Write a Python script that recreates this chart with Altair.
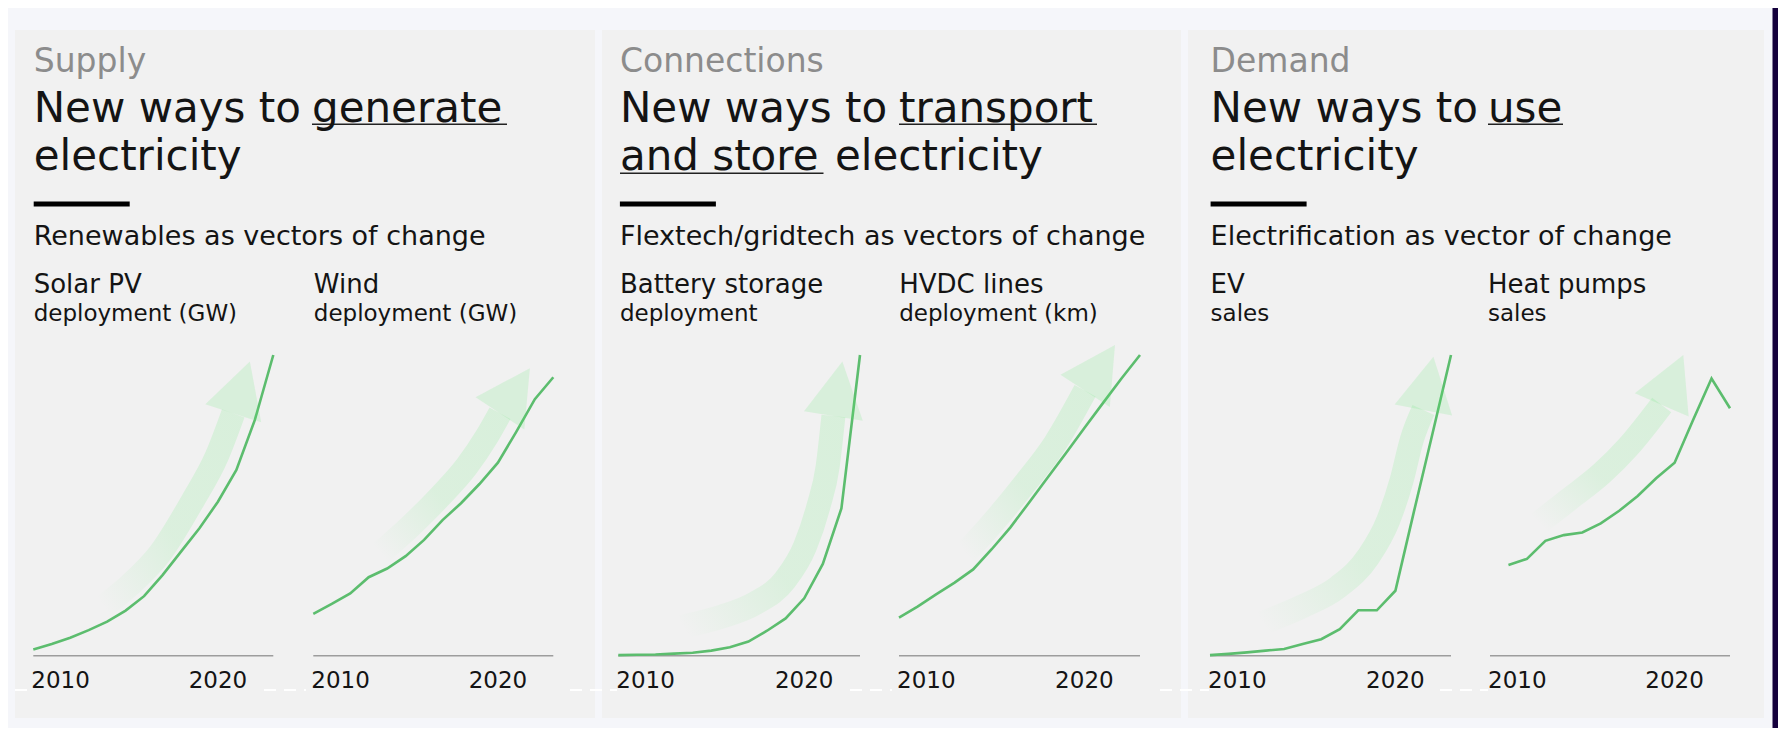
import math
import pandas as pd
import altair as alt

FONT = "DejaVu Sans"
GREEN = "#5cbd6e"
INK = "#141414"
GREY_TXT = "#8c8c8c"

# ---------------- data (index, 100 = top of each mini chart) ----------------
years = list(range(2010, 2024))
solar_pv = [2.1, 3.9, 6.0, 8.5, 11.3, 15.0, 19.8, 26.8, 34.6, 42.4, 51.2, 61.8, 78.4, 100]
wind = [13.9, 17.2, 20.7, 26.1, 29.0, 33.1, 38.5, 45.1, 50.7, 57.1, 64.2, 74.5, 85.3, 92.6]
battery = [0.2, 0.3, 0.4, 0.7, 1.0, 1.7, 2.8, 4.7, 8.3, 12.4, 19.1, 30.5, 49.0, 100]
hvdc = [12.7, 16.3, 20.4, 24.3, 28.7, 35.4, 42.6, 50.8, 59.1, 67.3, 75.7, 84.0, 92.2, 100]
ev = [0.2, 0.6, 1.1, 1.7, 2.2, 3.9, 5.5, 8.8, 15.1, 15.1, 21.6, 47.9, 73.8, 100]
heat_pump_years = list(range(2011, 2024))
heat_pumps = [30.2, 32.2, 38.2, 40.1, 41.0, 44.0, 48.2, 53.1, 59.0, 64.2, 78.4, 92.2, 82.3]

tick_years = [2010, 2020]
tick_labels = ["2010", "2020"]

# trend arrows (year, index) : body points, then tip
arrow_solar_x = [2013.79, 2015.23, 2016.86, 2018.66, 2019.93, 2020.83]
arrow_solar_y = [16.3, 23.5, 34.0, 51.8, 66.2, 80.6]
arrow_solar_tip = (2021.73, 97.8)
arrow_wind_x = [2013.61, 2015.23, 2016.86, 2018.30, 2019.39, 2020.11]
arrow_wind_y = [34.0, 42.9, 52.9, 62.9, 72.8, 80.6]
arrow_wind_tip = (2021.73, 95.6)
arrow_batt_x = [2013.41, 2015.56, 2017.35, 2018.97, 2020.04, 2020.76, 2021.26, 2021.57]
arrow_batt_y = [9.6, 13.0, 17.4, 25.2, 36.3, 49.6, 62.9, 79.7]
arrow_batt_tip = (2022.05, 97.8)
arrow_hvdc_x = [2013.56, 2015.18, 2016.80, 2018.42, 2020.04]
arrow_hvdc_y = [34.0, 45.1, 57.3, 70.6, 88.1]
arrow_hvdc_tip = (2021.65, 103.3)
arrow_ev_x = [2012.79, 2014.95, 2016.92, 2018.54, 2019.62, 2020.34, 2020.88, 2021.51]
arrow_ev_y = [10.8, 16.3, 22.9, 32.9, 45.1, 58.4, 71.7, 81.7]
arrow_ev_tip = (2022.05, 99.4)
arrow_hp_x = [2012.62, 2014.24, 2016.05, 2017.49, 2019.30]
arrow_hp_y = [44.0, 51.8, 60.6, 69.5, 83.4]
arrow_hp_tip = (2020.47, 100)

# ---------------- text ----------------
section_labels = ["Supply", "Connections", "Demand"]
title_lead = ["New ways to", "New ways to", "New ways to"]
title_key = ["generate", "transport", "use"]
subtitles = ["Renewables as vectors of change",
             "Flextech/gridtech as vectors of change",
             "Electrification as vector of change"]
chart_titles = ["Solar PV", "Wind", "Battery storage", "HVDC lines", "EV", "Heat pumps"]
chart_units = ["deployment (GW)", "deployment (GW)", "deployment", "deployment (km)", "sales", "sales"]

# ---------------- layout (pixels of the 1770x720 canvas) ----------------
W, H = 1770, 720
panel_x0 = [7, 594, 1180]
panel_x1 = [587, 1173, 1756]
col_x = [25.7, 305.8, 611.9, 891.2, 1202.6, 1480]
panel_text_x = [25.7, 611.9, 1202.6]
key_x = [304, 891, 1480]
key_w = [195, 198, 75]
chart_ranges = [(25.3, 265.3), (305.3, 545.3), (610.3, 852), (891, 1132), (1202, 1443), (1482, 1722)]
Y_BASE, Y_TOP = 647.7, 347.0

rows = []
for i in range(3):
    rows.append(dict(x=panel_text_x[i], y=63.7, text=section_labels[i], size=33, color=GREY_TXT))
    rows.append(dict(x=panel_text_x[i], y=113.7, text=title_lead[i], size=42, color=INK))
    rows.append(dict(x=key_x[i], y=113.7, text=title_key[i], size=42, color=INK))
    rows.append(dict(x=panel_text_x[i], y=237, text=subtitles[i], size=27, color=INK))
rows.append(dict(x=25.7, y=162, text="electricity", size=42, color=INK))
rows.append(dict(x=611.9, y=162, text="and store", size=42, color=INK))
rows.append(dict(x=827, y=162, text="electricity", size=42, color=INK))
rows.append(dict(x=1202.6, y=162, text="electricity", size=42, color=INK))
for i in range(6):
    rows.append(dict(x=col_x[i], y=284.7, text=chart_titles[i], size=26, color=INK))
    rows.append(dict(x=col_x[i], y=313, text=chart_units[i], size=23, color=INK))
text_df = pd.DataFrame(rows)

one = pd.DataFrame({"a": [0]})

panels = alt.Chart(pd.DataFrame({"x0": panel_x0, "x1": panel_x1, "y0": [22] * 3, "y1": [710] * 3})).mark_rect(
    color="#f1f1f1").encode(
    x=alt.X("x0:Q", scale=None, axis=None), x2="x1:Q",
    y=alt.Y("y0:Q", scale=None, axis=None), y2="y1:Q")

strip = alt.Chart(one).mark_rect(color="#14003c").encode(
    x=alt.value(1764.5), x2=alt.value(W), y=alt.value(0), y2=alt.value(H))

dash_df = pd.DataFrame({"x0": [7, 256, 562, 842, 1152, 1432], "x1": [23, 298, 609, 884, 1201, 1480]})
dashes = alt.Chart(dash_df).mark_rule(color="#ffffff", strokeWidth=2, strokeDash=[12, 8]).encode(
    x=alt.X("x0:Q", scale=None, axis=None), x2="x1:Q", y=alt.value(682))

bars = alt.Chart(pd.DataFrame({"x0": panel_text_x, "x1": [t + 96 for t in panel_text_x]})).mark_rect(
    color="#000000").encode(
    x=alt.X("x0:Q", scale=None, axis=None), x2="x1:Q", y=alt.value(193.5), y2=alt.value(198.5))

ul_df = pd.DataFrame({"x0": key_x + [612], "x1": [k + w for k, w in zip(key_x, key_w)] + [815.5],
                      "y": [116.3, 116.3, 116.3, 165.3]})
underlines = alt.Chart(ul_df).mark_rule(color="#222222", strokeWidth=1.6).encode(
    x=alt.X("x0:Q", scale=None, axis=None), x2="x1:Q", y=alt.Y("y:Q", scale=None, axis=None))

texts = alt.Chart(text_df).mark_text(align="left", baseline="alphabetic", font=FONT).encode(
    x=alt.X("x:Q", scale=None, axis=None),
    y=alt.Y("y:Q", scale=None, axis=None),
    text="text:N",
    size=alt.Size("size:Q", scale=None, legend=None),
    color=alt.Color("color:N", scale=None, legend=None))

HEAD_PATH = "M0,-2 L1.08,0 L-1.08,0 Z"
ARROW_RGB = "95,232,112"
ALPHA = 0.17
GRAD = {"gradient": "linear", "x1": 0, "y1": 1, "x2": 1, "y2": 0,
        "stops": [{"offset": 0, "color": f"rgba({ARROW_RGB},0)"},
                  {"offset": 0.45, "color": f"rgba({ARROW_RGB},{ALPHA - 0.02})"},
                  {"offset": 1, "color": f"rgba({ARROW_RGB},{ALPHA})"}]}


def mini_chart(xr, xs, ys, ax, ay, tip):
    xsc = alt.Scale(domain=[2010, 2023], range=list(xr), nice=False, zero=False)
    ysc = alt.Scale(domain=[0, 100], range=[Y_BASE, Y_TOP], nice=False, zero=False)
    X = lambda f: alt.X(f, scale=xsc, axis=None)
    Y = lambda f: alt.Y(f, scale=ysc, axis=None)

    rule = alt.Chart(pd.DataFrame({"start": [2010], "end": [2023], "base": [0]})).mark_rule(
        color="#9d9d9d", strokeWidth=1.6).encode(x=X("start:Q"), x2="end:Q", y=Y("base:Q"))
    line = alt.Chart(pd.DataFrame({"year": xs, "value": ys})).mark_line(
        color=GREEN, strokeWidth=2.6).encode(x=X("year:Q"), y=Y("value:Q"))
    band = alt.Chart(pd.DataFrame({"year": ax, "value": ay, "o": list(range(len(ax)))})).mark_line(
        stroke=GRAD, strokeWidth=24, strokeCap="butt", strokeJoin="round", interpolate="monotone").encode(
        x=X("year:Q"), y=Y("value:Q"), order="o:Q")
    ppy = (xr[1] - xr[0]) / 13.0
    ppi = (Y_BASE - Y_TOP) / 100.0
    dx = (tip[0] - ax[-1]) * ppy
    dy = (tip[1] - ay[-1]) * ppi
    ang = math.degrees(math.atan2(dx, dy)) % 360
    length = math.hypot(dx, dy)
    head = alt.Chart(pd.DataFrame({"year": [ax[-1]], "value": [ay[-1]]})).mark_point(
        shape=HEAD_PATH, filled=True, color=f"rgb({ARROW_RGB})", opacity=ALPHA, strokeWidth=0,
        size=length * length, angle=ang).encode(x=X("year:Q"), y=Y("value:Q"))
    t0 = alt.Chart(pd.DataFrame({"year": tick_years[:1], "label": tick_labels[:1]})).mark_text(
        align="left", baseline="alphabetic", font=FONT, fontSize=23, color=INK, dx=-2).encode(
        x=X("year:Q"), y=alt.value(680), text="label:N")
    t1 = alt.Chart(pd.DataFrame({"year": tick_years[1:], "label": tick_labels[1:]})).mark_text(
        align="center", baseline="alphabetic", font=FONT, fontSize=23, color=INK).encode(
        x=X("year:Q"), y=alt.value(680), text="label:N")
    return alt.layer(rule, line, band, head, t0, t1)


charts = [
    mini_chart(chart_ranges[0], years, solar_pv, arrow_solar_x, arrow_solar_y, arrow_solar_tip),
    mini_chart(chart_ranges[1], years, wind, arrow_wind_x, arrow_wind_y, arrow_wind_tip),
    mini_chart(chart_ranges[2], years, battery, arrow_batt_x, arrow_batt_y, arrow_batt_tip),
    mini_chart(chart_ranges[3], years, hvdc, arrow_hvdc_x, arrow_hvdc_y, arrow_hvdc_tip),
    mini_chart(chart_ranges[4], years, ev, arrow_ev_x, arrow_ev_y, arrow_ev_tip),
    mini_chart(chart_ranges[5], heat_pump_years, heat_pumps, arrow_hp_x, arrow_hp_y, arrow_hp_tip),
]

chart = alt.layer(panels, strip, dashes, bars, underlines, texts, *charts).resolve_scale(
    x="independent", y="independent").properties(
    width=W, height=H, padding=0, autosize=alt.AutoSizeParams(type="none"),
    background="#f5f6fa").configure_view(stroke=None)

chart.save("out.html", embed_options={"renderer": "svg", "actions": False})
